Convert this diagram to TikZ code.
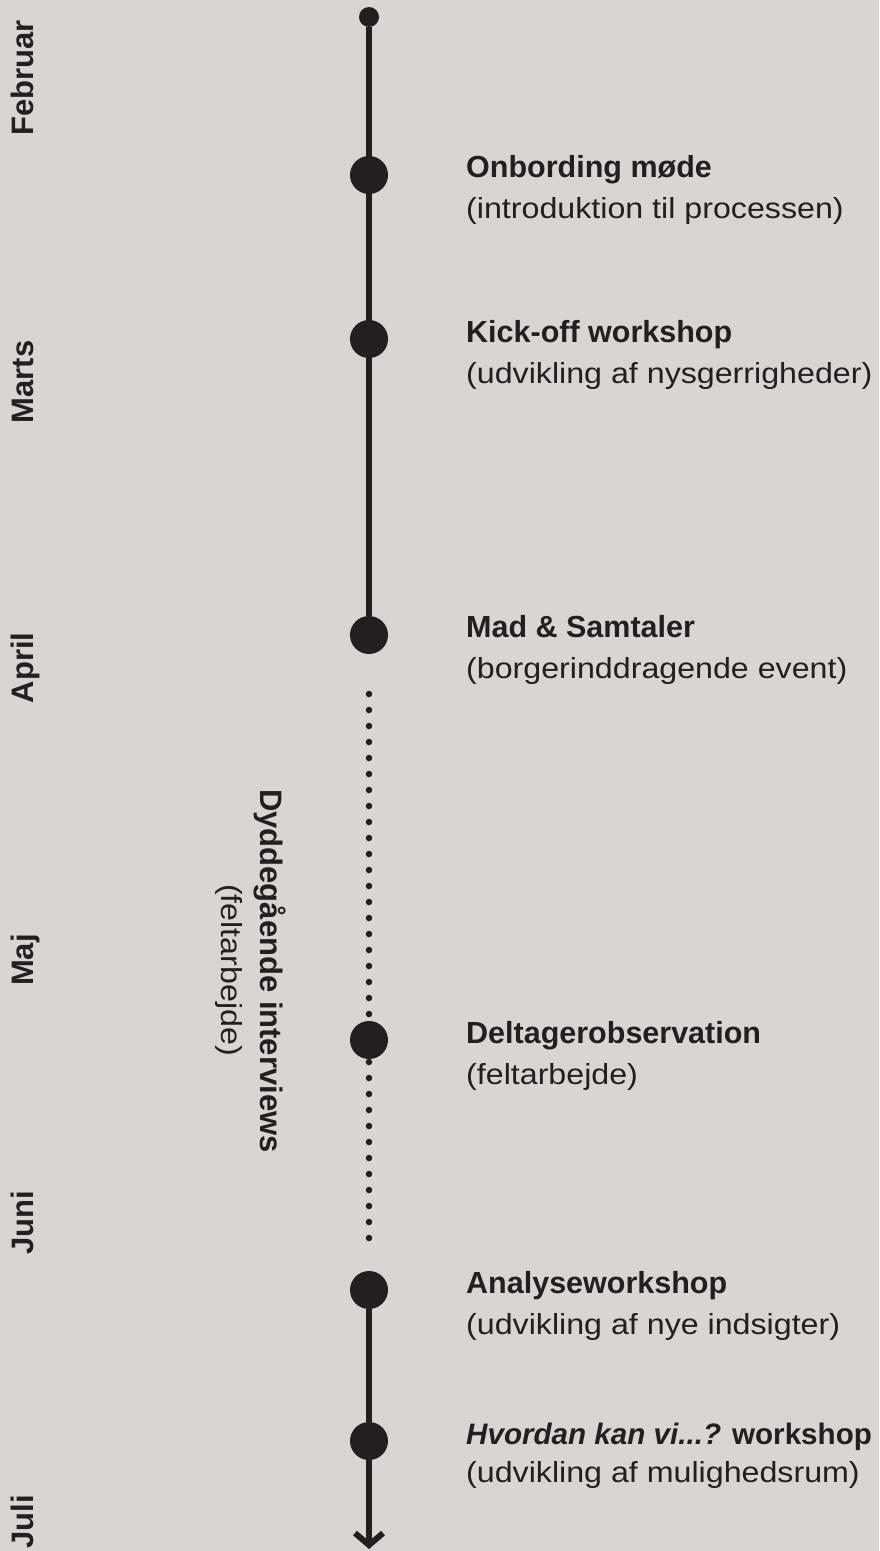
\documentclass[tikz,border=0pt]{standalone}
\usepackage{fontspec}
\setmainfont{Liberation Sans}
\newfontfamily\subfont[FakeStretch=1.11]{Liberation Sans}
\usetikzlibrary{arrows.meta}
\definecolor{paper}{HTML}{D7D6D4}
\definecolor{ink}{HTML}{231F20}
\begin{document}
\begin{tikzpicture}[x=1pt,y=-1pt,
  bigdot/.style={circle, fill=ink, minimum size=38pt, inner sep=0pt, outer sep=0pt},
  startdot/.style={circle, fill=ink, minimum size=20pt, inner sep=0pt, outer sep=0pt},
  spine/.style={draw=ink, line width=6pt},
  dotline/.style={draw=ink, line width=6.5pt, line cap=round, dash pattern=on 0pt off 16pt},
  title/.style={anchor=base west, inner sep=0pt, text=ink, font=\fontsize{30.5}{36}\selectfont\bfseries},
  sub/.style={anchor=base west, inner sep=0pt, text=ink, font=\subfont\fontsize{29}{34}\selectfont},
  month/.style={rotate=90, anchor=base, inner sep=0pt, text=ink, font=\fontsize{31}{36}\selectfont\bfseries},
  sidetitle/.style={rotate=-90, anchor=base, inner sep=0pt, text=ink, font=\fontsize{31}{36}\selectfont\bfseries},
  sidesub/.style={rotate=-90, anchor=base, inner sep=0pt, text=ink, font=\subfont\fontsize{29}{34}\selectfont}]

% background
\fill[paper] (0,0) rectangle (879,1551);
\useasboundingbox (0,0) rectangle (879,1551);

% months
\node[month] (feb) at (34,78) {Februar};
\node[month] (mar) at (34,382) {Marts};
\node[month] (apr) at (34,668) {April};
\node[month] (maj) at (34,960) {Maj};
\node[month] (jun) at (34,1223) {Juni};
\node[month] (jul) at (34,1522) {Juli};

% dotted stretch (field work)
\coordinate (dotA) at (369,694);
\coordinate (dotB) at (369,1254);
\draw[dotline] (dotA) -- (dotB);

% timeline dots
\node[startdot] (d0) at (369,17) {};
\node[bigdot] (d1) at (369,175) {};
\node[bigdot] (d2) at (369,339) {};
\node[bigdot] (d3) at (369,635) {};
\node[bigdot] (d4) at (369,1040) {};
\node[bigdot] (d5) at (369,1290) {};
\node[bigdot] (d6) at (369,1441) {};
\coordinate (tip) at (369,1549);

% solid stretches
\draw[spine] (d0) -- (d3);
\draw[spine] (d5) -- (d6);
\draw[spine, -{Straight Barb[length=12pt,width=28pt]}] (d6) -- (tip);

% events
\node[title] (t1) at (466,177) {Onbording møde};
\node[sub]   (s1) at (466,218) {(introduktion til processen)};
\node[title] (t2) at (466,342) {Kick-off workshop};
\node[sub]   (s2) at (466,383) {(udvikling af nysgerrigheder)};
\node[title] (t3) at (466,637) {Mad \& Samtaler};
\node[sub]   (s3) at (466,678) {(borgerinddragende event)};
\node[title] (t4) at (466,1043) {Deltagerobservation};
\node[sub]   (s4) at (466,1084) {(feltarbejde)};
\node[title] (t5) at (466,1293) {Analyseworkshop};
\node[sub]   (s5) at (466,1334) {(udvikling af nye indsigter)};
\node[title, font=\fontsize{29.6}{36}\selectfont\bfseries] (t6) at (466,1444) {\textit{Hvordan kan vi...?} workshop};
\node[sub]   (s6) at (466,1482) {(udvikling af mulighedsrum)};

% side label for interviews
\node[sidetitle] (iv) at (260,971) {Dyddegående interviews};
\node[sidesub] (ivs) at (221,970) {(feltarbejde)};
\end{tikzpicture}
\end{document}
